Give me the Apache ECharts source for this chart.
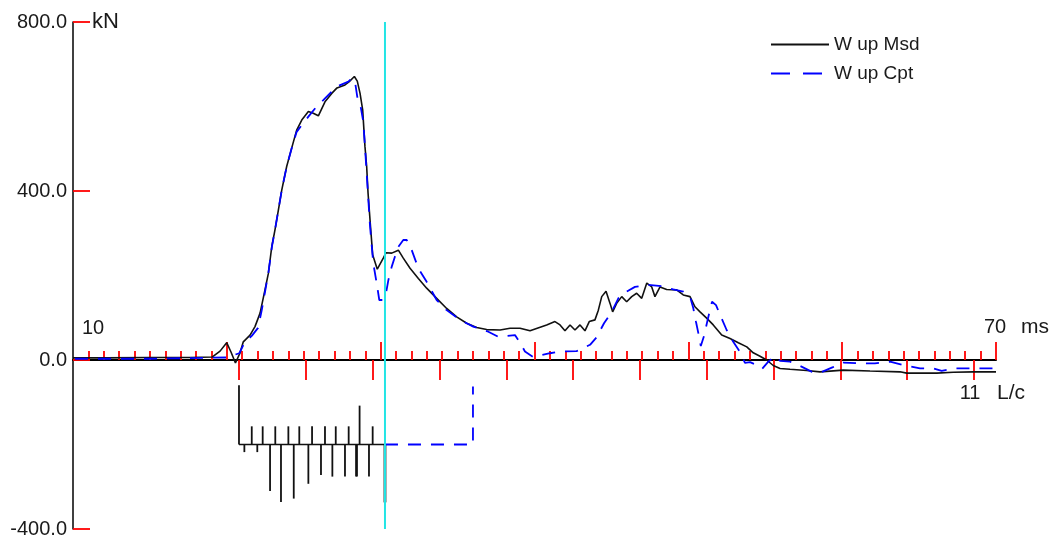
<!DOCTYPE html>
<html><head><meta charset="utf-8">
<script src="https://cdn.jsdelivr.net/npm/echarts@6/dist/echarts.min.js"></script>
<style>html,body{margin:0;padding:0;background:#fff}#c{width:1059px;height:539px}</style>
</head><body><div id="c"></div>
<script>
// ---- data (time in ms, force in kN) ----
const msdTimes = [10.00,12.08,15.0,17.6,19.04,19.56,19.99,20.27,20.56,20.86,
  21.07,21.51,21.83,22.16,22.48,22.70,22.92,23.13,23.35,23.57,
  23.89,24.22,24.54,24.87,25.30,25.62,25.95,26.38,26.82,27.16,
  27.68,27.96,28.29,28.48,28.66,28.83,28.98,29.09,29.18,29.34,
  29.48,29.78,30.17,30.35,30.72,31.15,31.47,31.91,32.45,32.99,
  33.64,34.29,34.94,35.59,36.24,36.89,37.76,38.41,39.06,39.71,
  40.79,41.33,41.66,41.98,42.31,42.63,42.96,43.28,43.56,43.93,
  44.15,44.37,44.65,44.91,45.08,45.34,45.67,45.99,46.32,46.64,
  46.97,47.30,47.62,47.83,48.16,48.59,49.24,49.67,50.11,50.43,
  50.76,51.19,51.62,52.17,52.71,53.25,53.80,54.22,54.66,55.09,
  55.52,55.96,56.61,57.69,58.56,60.07,61.81,63.76,64.19,66.15,
  67.22,68.53,70.00];
const msdValues = [5,5,6,6,7,21,41,19,-7,17,
  43,59,79,111,166,205,268,308,355,402,
  458,502,544,568,588,584,578,611,631,644,
  651,659,671,660,631,592,505,458,395,316,
  249,215,241,254,253,260,241,217,193,170,
  146,122,102,87,77,72,71,75,75,69,
  83,91,83,69,83,71,83,69,91,95,
  118,150,163,134,114,134,150,138,150,158,
  146,182,173,150,173,167,166,154,150,126,
  114,99,83,59,51,41,31,17,9,0,
  -13,-20,-22,-25,-28,-24,-26,-28,-31,-31,
  -29,-28,-28];
const cptTimes = [10.13,15.0,19.99,20.81,21.18,21.62,22.03,22.27,22.48,22.70,
  22.94,23.13,23.35,23.57,23.89,24.22,24.54,24.87,25.30,25.84,
  26.27,27.14,27.90,28.12,28.33,28.48,28.66,28.87,28.98,29.09,
  29.20,29.31,29.52,29.74,29.91,30.12,30.35,30.50,30.72,30.93,
  31.15,31.47,31.69,32.02,32.45,32.99,33.64,34.29,35.16,36.02,
  37.00,37.65,38.73,39.06,39.38,39.92,41.01,41.66,42.74,43.61,
  44.04,44.52,45.02,45.45,45.99,46.53,47.30,48.27,49.02,49.67,
  50.11,50.32,50.50,50.66,50.81,51.02,51.28,51.54,51.80,52.06,
  52.49,52.92,53.36,53.68,54.01,54.45,54.79,55.20,55.63,55.96,
  56.61,57.26,58.04,58.56,59.40,60.07,61.16,62.13,63.11,63.98,
  65.06,65.93,66.47,67.22,68.09,70.00];
const cptValues = [3,3,6,16,43,57,76,118,161,206,
  270,308,355,402,458,502,540,556,576,600,
  615,647,659,667,659,623,608,564,505,442,
  379,316,229,182,142,142,159,189,221,245,
  268,284,284,260,217,185,142,118,95,79,
  67,55,59,41,20,7,16,20,21,36,
  54,87,114,146,162,173,178,175,167,162,
  150,123,90,62,33,57,99,138,130,107,
  71,43,19,-7,-5,-12,-21,-4,9,-2,
  -4,-14,-28,-30,-17,-6,-8,-8,-4,-12,
  -20,-20,-26,-20,-20,-20];
// resistance distribution drawn under the axis (values relative to resBase, kN)
const resBase = -200;
const resTimes = [20.79,21.14,21.62,21.98,22.33,22.81,23.15,23.52,24.00,24.35,24.71,25.30,
  25.54,26.12,26.38,26.86,27.08,27.68,27.92,28.40,28.46,28.63,29.24,29.48,30.25,30.31];
const resValues = [140,-18,43,-18,43,-110,43,-136,43,-128,43,-93,
  43,-72,43,-76,43,-76,43,-76,-76,92,-76,43,-137,-137];
const resCptTimes = [30.28,36.0,36.0];
const resCptValues = [0,0,137];
const cursorTime = 30.28;
// axes
const timeRange = [10, 70];
const forceRange = [-400, 800];
const forceTicks = [-400, 0, 400, 800];
const lcTicks = [0,1,2,3,4,5,6,7,8,9,10,11];
const lcZeroMs = 20.79, lcUnitMs = 4.344;
const seriesNames = ['W up Msd', 'W up Cpt'];

const FONT = '"Liberation Sans", Arial, Helvetica, sans-serif';
const RED = '#ff0000';
const chart = echarts.init(document.getElementById('c'), null, {renderer: 'canvas'});
const pairs = (t, v, base) => t.map((x, i) => [x, (base || 0) + v[i]]);

const option = {
  animation: false,
  backgroundColor: '#ffffff',
  grid: {left: 73, right: 63, top: 22, bottom: 10, containLabel: false},
  legend: {
    orient: 'vertical', left: 770, top: 35, padding: 0,
    itemWidth: 58, itemHeight: 18, itemGap: 10,
    itemStyle: {color: 'rgba(0,0,0,0)', borderColor: 'rgba(0,0,0,0)', borderWidth: 0},
    textStyle: {fontSize: 19, fontFamily: FONT, color: '#1a1a1a'},
    data: [{name: seriesNames[0]}, {name: seriesNames[1], lineStyle: {type: [19, 13]}}]
  },
  xAxis: [{
    type: 'value', min: timeRange[0], max: timeRange[1], interval: 10,
    position: 'bottom',
    axisLine: {show: true, onZero: true, onZeroAxisIndex: 0, lineStyle: {color: '#000', width: 2}},
    axisTick: {show: true, inside: true, length: 18, customValues: [20,30,40,50,60,70], lineStyle: {color: RED, width: 1.8}},
    minorTick: {show: true, splitNumber: 10, length: 9, lineStyle: {color: RED, width: 1.8}},
    axisLabel: {show: false}, splitLine: {show: false}, minorSplitLine: {show: false}
  }, {
    type: 'value', min: (timeRange[0] - lcZeroMs) / lcUnitMs, max: (timeRange[1] - lcZeroMs) / lcUnitMs,
    position: 'bottom',
    axisLine: {show: false, onZero: true, onZeroAxisIndex: 0},
    axisTick: {show: true, inside: false, length: 20, customValues: lcTicks, lineStyle: {color: RED, width: 1.8}},
    axisLabel: {show: false}, splitLine: {show: false}
  }],
  yAxis: [{
    type: 'value', min: forceRange[0], max: forceRange[1], interval: 400,
    axisLine: {show: true, onZero: false, lineStyle: {color: '#000', width: 1.5}},
    axisTick: {show: true, inside: true, length: 17, customValues: forceTicks, lineStyle: {color: RED, width: 1.8}},
    axisLabel: {show: true, margin: 6, fontSize: 20, fontFamily: FONT, color: '#1a1a1a',
      customValues: forceTicks, formatter: v => Number(v).toFixed(1)},
    splitLine: {show: false}
  }],
  series: [
    {name: seriesNames[0], type: 'line', data: pairs(msdTimes, msdValues), symbol: 'none',
      lineStyle: {color: '#111', width: 1.6}, itemStyle: {color: '#111'}, z: 3},
    {name: seriesNames[1], type: 'line', data: pairs(cptTimes, cptValues), symbol: 'none',
      lineStyle: {color: '#0000ff', width: 1.8, type: [13, 10]}, itemStyle: {color: '#0000ff'}, z: 4},
    {name: 'resBaseline', type: 'line', data: [[resTimes[0], resBase], [cursorTime, resBase]],
      symbol: 'none', lineStyle: {color: '#111', width: 1.6}, z: 3},
    {name: 'resCpt', type: 'line', data: pairs(resCptTimes, resCptValues, resBase), symbol: 'none',
      lineStyle: {color: '#0000ff', width: 1.8, type: [13, 10]}, z: 3},
    {name: 'resistance', type: 'custom', data: pairs(resTimes, resValues),
      renderItem: function (params, api) {
        const x = api.value(0), v = api.value(1);
        const p0 = api.coord([x, resBase]);
        const p1 = api.coord([x, resBase + v]);
        return {type: 'line', shape: {x1: p0[0], y1: p0[1], x2: p1[0], y2: p1[1]},
          style: {stroke: '#111', lineWidth: 1.8}};
      }, z: 3},
    {name: 'cursor', type: 'line', data: [[cursorTime, forceRange[0]], [cursorTime, forceRange[1]]],
      symbol: 'none', lineStyle: {color: '#22e5e5', width: 2}, z: 6}
  ]
};
chart.setOption(option);

function txt(x, y, text, size, align) {
  return {type: 'text', x: x, y: y, z: 10,
    style: {text: text, fill: '#1a1a1a', font: size + 'px ' + FONT,
      align: align || 'left', verticalAlign: 'middle', textAlign: align || 'left', textVerticalAlign: 'middle'}};
}
const pTop = chart.convertToPixel({xAxisIndex: 0, yAxisIndex: 0}, [timeRange[0], forceRange[1]]);
const pMin = chart.convertToPixel({xAxisIndex: 0, yAxisIndex: 0}, [timeRange[0], 0]);
const pMax = chart.convertToPixel({xAxisIndex: 0, yAxisIndex: 0}, [timeRange[1], 0]);
const pLc = chart.convertToPixel({xAxisIndex: 1, yAxisIndex: 0}, [lcTicks[lcTicks.length - 1], 0]);
chart.setOption({graphic: [
  txt(pTop[0] + 19, pTop[1], 'kN', 22),
  txt(pMin[0] + 9, pMin[1] - 32, String(timeRange[0]), 20),
  txt(pMax[0] - 12, pMin[1] - 33, String(timeRange[1]), 20),
  txt(pMax[0] + 25, pMin[1] - 33, 'ms', 21),
  txt(pLc[0] - 4, pLc[1] + 33, String(lcTicks[lcTicks.length - 1]), 20, 'center'),
  txt(pLc[0] + 23, pLc[1] + 33, 'L/c', 21)
]});
</script></body></html>
